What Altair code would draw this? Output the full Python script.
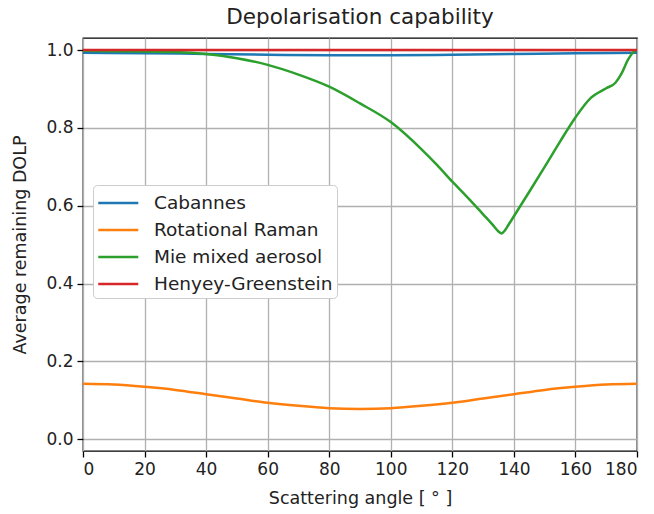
import altair as alt
import pandas as pd

series_names = ["Cabannes", "Rotational Raman", "Mie mixed aerosol", "Henyey-Greenstein"]
series_colors = ["#1f77b4", "#ff7f0e", "#2ca02c", "#d62728"]

cab_angle = [0, 20, 40, 60, 80, 90, 100, 120, 140, 160, 180]
cab_value = [0.993, 0.992, 0.990, 0.988, 0.987, 0.987, 0.987, 0.988, 0.990, 0.992, 0.993]

raman_angle = [0, 10, 20, 30, 40, 50, 60, 70, 80, 90, 100, 110, 120, 130, 140, 150, 160, 170, 180]
raman_value = [0.143, 0.141, 0.135, 0.127, 0.116, 0.105, 0.094, 0.086, 0.080, 0.078,
               0.080, 0.086, 0.094, 0.105, 0.116, 0.127, 0.135, 0.141, 0.143]

mie_angle = [0, 10, 20, 30, 40, 50, 60, 70, 80, 90, 100, 110, 115, 120, 125, 130, 133,
             135, 136, 137, 138, 140, 145, 150, 155, 160, 165, 170, 173, 175, 177, 179, 180]
mie_value = [0.998, 0.997, 0.996, 0.995, 0.990, 0.979, 0.962, 0.937, 0.906, 0.863, 0.815,
             0.745, 0.705, 0.662, 0.621, 0.578, 0.552, 0.534, 0.529, 0.536, 0.548, 0.573,
             0.636, 0.700, 0.765, 0.827, 0.877, 0.902, 0.916, 0.940, 0.974, 0.996, 1.000]

hg_angle = [0, 90, 180]
hg_value = [1.0, 1.0, 1.0]

rows = []
for name, angs, vals in [
    (series_names[0], cab_angle, cab_value),
    (series_names[1], raman_angle, raman_value),
    (series_names[2], mie_angle, mie_value),
    (series_names[3], hg_angle, hg_value),
]:
    for a, v in zip(angs, vals):
        rows.append({"angle": a, "value": v, "series": name, "order": series_names.index(name)})
df = pd.DataFrame(rows)

x_ticks = list(range(0, 181, 20))
y_ticks = [0.0, 0.2, 0.4, 0.6, 0.8, 1.0]

FONT = "DejaVu Sans"

chart = alt.Chart(df).mark_line(strokeWidth=2.5, interpolate="monotone").encode(
    x=alt.X("angle:Q", scale=alt.Scale(domain=[0, 180], nice=False, zero=False),
            axis=alt.Axis(values=x_ticks, title="Scattering angle [ ° ]", format="d")),
    y=alt.Y("value:Q", scale=alt.Scale(domain=[-0.03, 1.031], nice=False, zero=False),
            axis=alt.Axis(values=y_ticks, title="Average remaining DOLP", format=".1f")),
    color=alt.Color("series:N", scale=alt.Scale(domain=series_names, range=series_colors),
                    legend=alt.Legend(title=None, orient="none", legendX=10, legendY=147,
                                      symbolType="M-1,0H2.14", symbolSize=650, symbolStrokeWidth=2.5,
                                      labelFontSize=18.5, labelFont=FONT, labelColor="#222222",
                                      labelOffset=29, rowPadding=3, padding=4, labelLimit=400,
                                      fillColor="white", strokeColor="#cccccc", cornerRadius=4)),
    detail="series:N",
    order=alt.Order("order:Q"),
).properties(
    width=554, height=413,
    title=alt.Title("Depolarisation capability", fontSize=21.5, font=FONT, fontWeight="normal",
                    color="#222222", offset=10),
    autosize=alt.AutoSizeParams(type="none"),
    padding={"left": 83, "top": 38, "right": 17, "bottom": 63},
).configure_view(
    stroke="black", strokeWidth=1.3
).configure_axis(
    labelFont=FONT, titleFont=FONT, labelFontSize=17, titleFontSize=17.5,
    labelColor="#222222", titleColor="#222222", titleFontWeight="normal",
    grid=True, gridColor="#b0b0b0", gridWidth=1.3,
    domain=False, tickColor="black", tickSize=6, tickWidth=1.3,
    labelPadding=4,
).configure_axisX(titlePadding=12).configure_axisY(titlePadding=16)

chart.save("out.html", embed_options={"renderer": "svg", "actions": False})
